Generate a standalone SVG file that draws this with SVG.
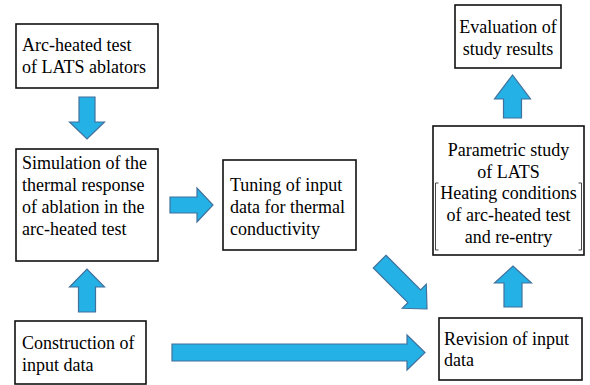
<svg xmlns="http://www.w3.org/2000/svg" width="590" height="385" viewBox="0 0 590 385">
  <style>
    .box { fill: #ffffff; stroke: #111111; stroke-width: 1.6; }
    .arrow { fill: #23b1e6; stroke: #41719c; stroke-width: 1.2; stroke-linejoin: miter; }
    .brk { fill: none; stroke: #333333; stroke-width: 0.9; }
  </style>

  <!-- block arrows between the steps -->
  <g id="connectors">
    <!-- arc-heated test down to simulation -->
    <path class="arrow" d="M79,97 H95 V122 H104.5 L87,139 L69.5,122 H79 Z"/>
    <!-- construction of input data up to simulation -->
    <path class="arrow" d="M78.5,312 H95.5 V287 H104.5 L87,269 L69.5,287 H78.5 Z"/>
    <!-- simulation right to tuning -->
    <path class="arrow" d="M170,197 H197 V188 L213,205 L197,222 V213 H170 Z"/>
    <!-- construction of input data right to revision -->
    <path class="arrow" d="M172,344 H407 V335 L425,352.5 L407,370 V361 H172 Z"/>
    <!-- tuning diagonal down to revision -->
    <path class="arrow" transform="translate(427,309) rotate(45)" d="M-67,-9 H-18 V-17 L0,0 L-18,17 V9 H-67 Z"/>
    <!-- revision up to parametric study -->
    <path class="arrow" d="M504,307 H522 V283 H531.5 L513,266 L494.5,283 H504 Z"/>
    <!-- parametric study up to evaluation -->
    <path class="arrow" d="M503.5,118 H521.5 V99 H530.5 L512.5,75 L494.5,99 H503.5 Z"/>
  </g>

  <g id="arc-test">
    <rect class="box" x="16" y="24" width="142" height="64"/>
    <text x="22" y="51" style="font-family:'Liberation Serif';font-size:18px">Arc-heated test</text>
    <text x="22" y="73" style="font-family:'Liberation Serif';font-size:18px">of LATS ablators</text>
  </g>

  <g id="simulation">
    <rect class="box" x="16" y="149" width="142" height="112"/>
    <text x="22" y="169" style="font-family:'Liberation Serif';font-size:18px">Simulation of the</text>
    <text x="22" y="191" style="font-family:'Liberation Serif';font-size:18px">thermal response</text>
    <text x="22" y="213" style="font-family:'Liberation Serif';font-size:18px">of ablation in the</text>
    <text x="22" y="235" style="font-family:'Liberation Serif';font-size:18px">arc-heated test</text>
  </g>

  <g id="construction">
    <rect class="box" x="15" y="321" width="131" height="63"/>
    <text x="22" y="349" style="font-family:'Liberation Serif';font-size:18px">Construction of</text>
    <text x="22" y="371" style="font-family:'Liberation Serif';font-size:18px">input data</text>
  </g>

  <g id="tuning">
    <rect class="box" x="223" y="160" width="133" height="90"/>
    <text x="230" y="191" style="font-family:'Liberation Serif';font-size:18px">Tuning of input</text>
    <text x="230" y="213" style="font-family:'Liberation Serif';font-size:18px">data for thermal</text>
    <text x="230" y="235" style="font-family:'Liberation Serif';font-size:18px">conductivity</text>
  </g>

  <g id="revision">
    <rect class="box" x="439" y="318" width="143" height="62"/>
    <text x="444" y="345" style="font-family:'Liberation Serif';font-size:18px">Revision of input</text>
    <text x="444" y="366" style="font-family:'Liberation Serif';font-size:18px">data</text>
  </g>

  <g id="parametric">
    <rect class="box" x="433" y="126" width="151" height="129"/>
    <text x="508.5" y="156" text-anchor="middle" style="font-family:'Liberation Serif';font-size:18px">Parametric study</text>
    <text x="508.5" y="178" text-anchor="middle" style="font-family:'Liberation Serif';font-size:18px">of LATS</text>
    <text x="508.5" y="199" text-anchor="middle" style="font-family:'Liberation Serif';font-size:18px">Heating conditions</text>
    <text x="508.5" y="221" text-anchor="middle" style="font-family:'Liberation Serif';font-size:18px">of arc-heated test</text>
    <text x="508.5" y="243" text-anchor="middle" style="font-family:'Liberation Serif';font-size:18px">and re-entry</text>
    <!-- tall brackets round the heating conditions -->
    <path class="brk" d="M438.5,183 H435.5 V250 H438.5"/>
    <path class="brk" d="M578.5,183 H581.5 V250 H578.5"/>
  </g>

  <g id="evaluation">
    <rect class="box" x="455" y="5" width="106" height="63"/>
    <text x="508" y="33" text-anchor="middle" style="font-family:'Liberation Serif';font-size:18px">Evaluation of</text>
    <text x="508" y="55" text-anchor="middle" style="font-family:'Liberation Serif';font-size:18px">study results</text>
  </g>
</svg>
